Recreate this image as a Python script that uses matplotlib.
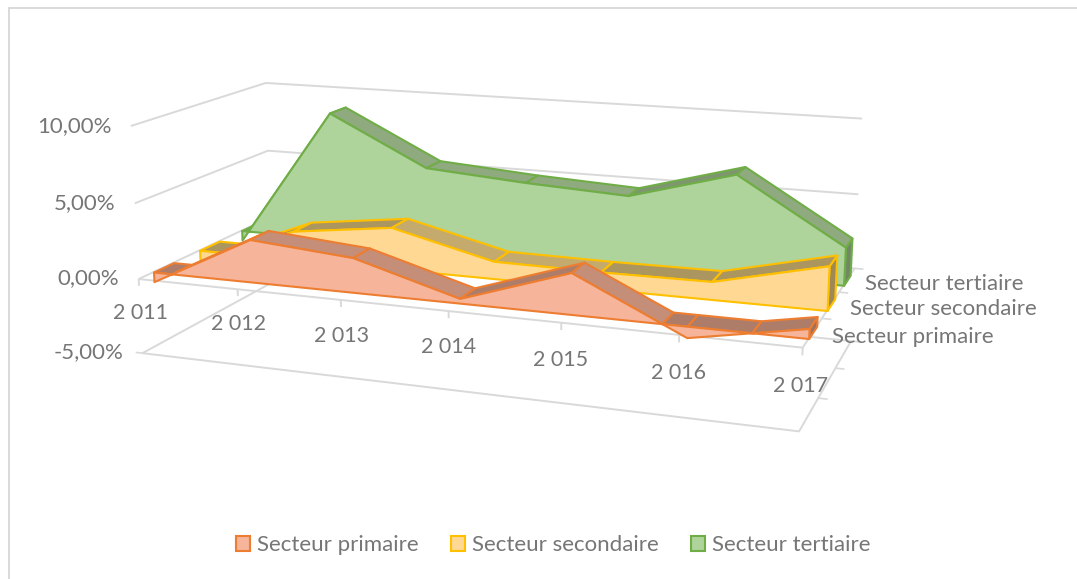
"""
Taux de croissance par secteur, aire 3D.
"""
import numpy as np
import matplotlib
matplotlib.use("Agg")
import matplotlib.pyplot as plt
import matplotlib.patches as mpatches
from matplotlib.colors import to_rgb
from mpl_toolkits.mplot3d import proj3d
from mpl_toolkits.mplot3d.art3d import Poly3DCollection

YEARS = ["2 011", "2 012", "2 013", "2 014", "2 015", "2 016", "2 017"]
VALUE_TICKS = [-5, 0, 5, 10]
VALUE_LABELS = ["-5,00%", "0,00%", "5,00%", "10,00%"]
SERIES_NAMES = ["Secteur primaire", "Secteur secondaire", "Secteur tertiaire"]

PRIMAIRE = [-0.65, 2.8, 2.25, 0.3, 2.6, -0.7, 0.6]
SECONDAIRE = [-0.75, 1.95, 2.8, 1.15, 1.1, 1.15, 2.8]
TERTIAIRE = [-0.7, 8.95, 5.6, 5.1, 4.75, 6.7, 2.5]

EDGES = ["#ED7D31", "#FFC000", "#70AD47"]
FILLS = ["#F6B49A", "#FFD993", "#AED39B"]
RIBBONS = ["#C58E78", "#C4AA6C", "#8FAA7E"]
BANDS = [(0.10, 0.24), (0.43, 0.58), (0.76, 0.90)]

GRID = "#D9D9D9"
TEXT = "#767676"
FONT = "Lato"

W, H = 1077, 579
SCALE, OFF_X, OFF_Y = 1773.766, 500.628, 236.403
BOX = np.array([3.7348, 1.6014, 1.3054])

plt.rcParams["font.family"] = [FONT, "DejaVu Sans"]

fig = plt.figure(figsize=(W / 100, H / 100), dpi=100)
ax = fig.add_axes([0, 0, 1, 1], projection="3d", computed_zorder=False)
x0, x1 = -0.095, 0.09  # view window that Axes3D fixes at creation
side = SCALE * (x1 - x0)
ax.set_position([(OFF_X + SCALE * x0) / W, (H - OFF_Y + SCALE * x0) / H, side / W, side / H])
ax.set_xticks([])
ax.set_yticks([])
ax.set_zticks([])
ax.set_axis_off()
ax.set_xlim3d(0, len(YEARS) - 1)
ax.set_ylim3d(0, 1)
ax.set_zlim3d(VALUE_TICKS[0], VALUE_TICKS[-1])
ax.set_box_aspect(BOX, zoom=np.linalg.norm(BOX) / (1.8294640721620434 * 25 / 24))
ax.view_init(13.9336, -70.0452)

last = len(YEARS) - 1
zlo = VALUE_TICKS[0]


def line(xs, ys, zs, lw=1.4, z=1):
    ax.plot(xs, ys, zs, color=GRID, lw=lw, zorder=z, clip_on=False, solid_capstyle="butt")


def poly(pts, fc, ec, z, lw=1.5):
    pc = Poly3DCollection([pts], facecolor=fc, edgecolor=ec, linewidth=lw, zorder=z, clip_on=False)
    ax.add_collection3d(pc, autolim=False)


def shade(color, k):
    return tuple(c * k for c in to_rgb(color))


def label(x, y, z, s, **kw):
    vx, vy, _ = proj3d.proj_transform(x, y, z, ax.get_proj())
    ax.text2D(vx, vy, s, transform=ax.transData, va="center", color=TEXT, zorder=50, clip_on=False, **kw)


def top_profile(vals):
    # upper surface of the band: it stays on the zero plane where a value is negative
    xs, zs = [0.0], [max(vals[0], 0)]
    for i in range(len(vals) - 1):
        a, b = vals[i], vals[i + 1]
        if a * b < 0:
            xs.append(i + a / (a - b))
            zs.append(0.0)
        xs.append(i + 1.0)
        zs.append(max(b, 0))
    return xs, zs


# walls and floor
for v in VALUE_TICKS:
    line([0, 0, last], [0, 1, 1], [v, v, v])
line([0, last, last], [0, 0, 1], [zlo, zlo, zlo])
line([0, last, last], [0, 0, 1], [0, 0, 0])
for i in range(len(YEARS)):
    line([i, i], [0, 0], [0, -0.45])
for yt in [1 / 3, 2 / 3, 1]:
    line([last, last + 0.08], [yt, yt], [0, 0], lw=1.2)
    line([last, last + 0.08], [yt, yt], [zlo, zlo], lw=1.2)
line([0, -0.07], [0, 0], [zlo, zlo], lw=1.2)

# back to front, so the nearer bands cover the farther ones
for k in [2, 1, 0]:
    vals = [PRIMAIRE, SECONDAIRE, TERTIAIRE][k]
    front, back = BANDS[k]
    base = 10 + 10 * (2 - k)
    poly([(last, front, 0), (last, back, 0), (last, back, vals[-1]), (last, front, vals[-1])],
         shade(RIBBONS[k], 0.8), EDGES[k], base)
    xs, zs = top_profile(vals)
    for i in range(len(xs) - 1):
        darker = zs[i + 1] > zs[i] or (zs[i] == 0 and zs[i + 1] == 0)
        poly([(xs[i], front, zs[i]), (xs[i + 1], front, zs[i + 1]),
              (xs[i + 1], back, zs[i + 1]), (xs[i], back, zs[i])],
             shade(RIBBONS[k], 0.88 if darker else 1.0), EDGES[k], base + 1)
    pts = [(i, front, v) for i, v in enumerate(vals)] + [(last, front, 0), (0, front, 0)]
    poly(pts, FILLS[k], EDGES[k], base + 2)

for i, name in enumerate(YEARS):
    label(i, 0, -2.3, name, ha="center", fontsize=15.5)
for v, name in zip(VALUE_TICKS, VALUE_LABELS):
    label(-0.2, 0, v - 0.1, name, ha="right", fontsize=16)
for k, name in enumerate(SERIES_NAMES):
    label(last + 0.16, sum(BANDS[k]) / 2, -0.15, name, ha="left", fontsize=16)

handles = [mpatches.Patch(facecolor=f, edgecolor=e, linewidth=1.5, label=n)
           for f, e, n in zip(FILLS, EDGES, SERIES_NAMES)]
fig.legend(handles=handles, loc="center", bbox_to_anchor=(553 / W, 1 - 545 / H), ncol=3, frameon=False,
           fontsize=16, labelcolor=TEXT, handlelength=0.65, handleheight=0.65, handletextpad=0.3, columnspacing=1.45)

fig.add_artist(mpatches.Rectangle((9 / W, -0.02), 1.1, 1.02 - 7.5 / H, transform=fig.transFigure,
                                  facecolor="none", edgecolor=GRID, linewidth=1.4))

fig.savefig("out.png", dpi=100, facecolor="white")
